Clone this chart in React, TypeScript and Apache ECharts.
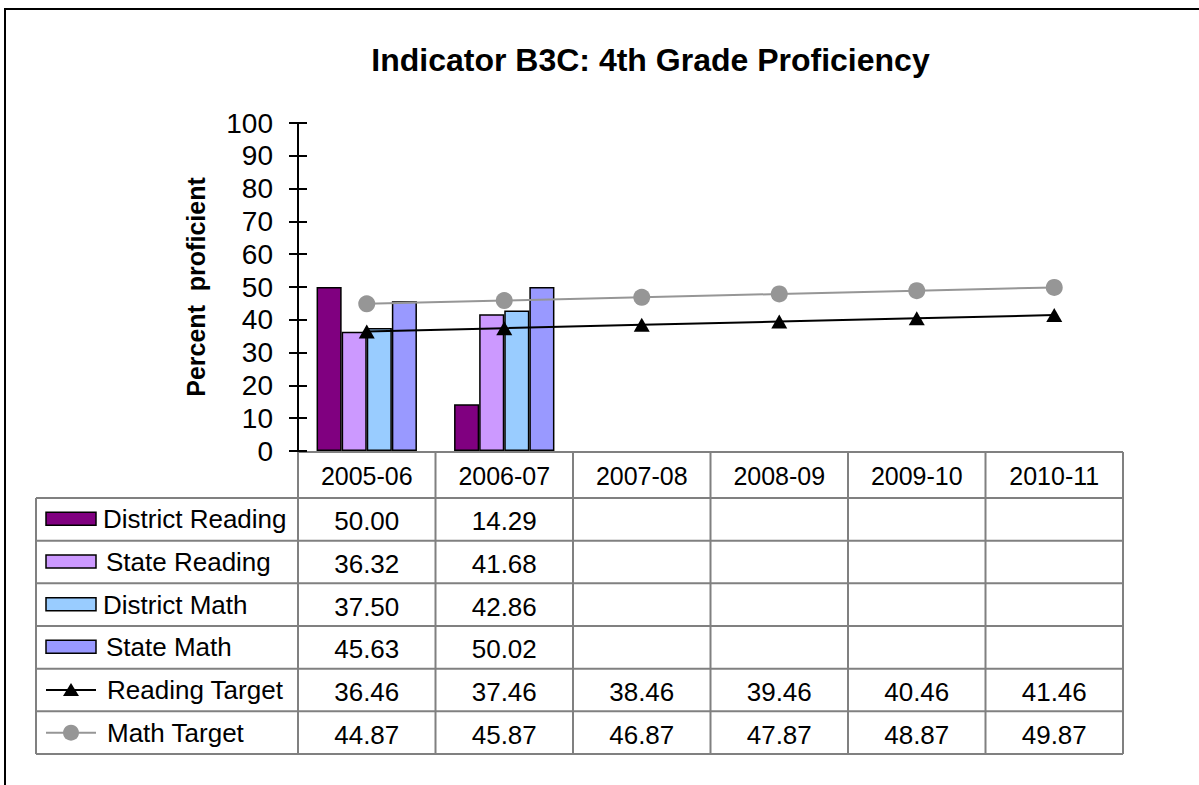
import React, { useEffect, useRef } from "react";
import * as echarts from "echarts";

const categories = ["2005-06", "2006-07", "2007-08", "2008-09", "2009-10", "2010-11"];
const districtReading = [50.0, 14.29, null, null, null, null];
const stateReading = [36.32, 41.68, null, null, null, null];
const districtMath = [37.5, 42.86, null, null, null, null];
const stateMath = [45.63, 50.02, null, null, null, null];
const readingTarget = [36.46, 37.46, 38.46, 39.46, 40.46, 41.46];
const mathTarget = [44.87, 45.87, 46.87, 47.87, 48.87, 49.87];
const yTicks = [0, 10, 20, 30, 40, 50, 60, 70, 80, 90, 100];

const FONT = "Liberation Sans, Arial, sans-serif";
const W = 1199;
const H = 785;
const GRID_L = 298;
const GRID_R = 1123;
const GRID_T = 123;
const GRID_B = 451;
const TABLE_L = 36;
const HEADER_B = 498;
const TABLE_B = 754;
const GRID_LINE = "#808080";

type Row = {
  name: string;
  data: (number | null)[];
  kind: "bar" | "line";
  color: string;
  symbol?: string;
};

const rows: Row[] = [
  { name: "District Reading", data: districtReading, kind: "bar", color: "#800080" },
  { name: "State Reading", data: stateReading, kind: "bar", color: "#CC99FF" },
  { name: "District Math", data: districtMath, kind: "bar", color: "#99CCFF" },
  { name: "State Math", data: stateMath, kind: "bar", color: "#9999FF" },
  { name: "Reading Target", data: readingTarget, kind: "line", color: "#000000", symbol: "triangle" },
  { name: "Math Target", data: mathTarget, kind: "line", color: "#969696", symbol: "circle" },
];

export default function App() {
  const ref = useRef<HTMLDivElement>(null);

  useEffect(() => {
    if (!ref.current) return;
    const chart = echarts.init(ref.current, null, { renderer: "svg" });

    const colW = (GRID_R - GRID_L) / categories.length;
    const rowH = (TABLE_B - HEADER_B) / rows.length;
    const graphics: any[] = [];

    // outer border (extends beyond the right/bottom of the page)
    graphics.push({
      type: "rect",
      shape: { x: 5, y: 9, width: 1400, height: 1000 },
      style: { fill: "none", stroke: "#000", lineWidth: 2 },
      silent: true,
    });

    // title
    graphics.push({
      type: "text",
      x: 650.5,
      y: 60,
      style: {
        text: "Indicator B3C: 4th Grade Proficiency",
        fill: "#000",
        font: `bold 32px ${FONT}`,
        align: "center",
        verticalAlign: "middle",
      },
    });

    // table horizontal lines
    graphics.push({
      type: "line",
      shape: { x1: GRID_L, y1: GRID_B + 1, x2: GRID_R, y2: GRID_B + 1 },
      style: { stroke: GRID_LINE, lineWidth: 2 },
    });
    for (let i = 0; i <= rows.length; i++) {
      const y = HEADER_B + i * rowH;
      graphics.push({
        type: "line",
        shape: { x1: TABLE_L, y1: y, x2: GRID_R, y2: y },
        style: { stroke: GRID_LINE, lineWidth: 2 },
      });
    }
    // vertical lines
    graphics.push({
      type: "line",
      shape: { x1: TABLE_L, y1: HEADER_B, x2: TABLE_L, y2: TABLE_B },
      style: { stroke: GRID_LINE, lineWidth: 2 },
    });
    for (let j = 0; j <= categories.length; j++) {
      const x = GRID_L + j * colW;
      graphics.push({
        type: "line",
        shape: { x1: x, y1: GRID_B + 1, x2: x, y2: TABLE_B },
        style: { stroke: GRID_LINE, lineWidth: 2 },
      });
    }
    // header texts
    categories.forEach((c, j) => {
      graphics.push({
        type: "text",
        x: GRID_L + (j + 0.5) * colW,
        y: (GRID_B + HEADER_B) / 2 + 1,
        style: {
          text: c,
          fill: "#000",
          font: `25px ${FONT}`,
          align: "center",
          verticalAlign: "middle",
        },
      });
    });
    // rows
    rows.forEach((r, i) => {
      const cy = HEADER_B + (i + 0.5) * rowH;
      if (r.kind === "bar") {
        graphics.push({
          type: "rect",
          shape: { x: 46, y: cy - 7, width: 50, height: 13 },
          style: { fill: r.color, stroke: "#000", lineWidth: 1.5 },
        });
      } else {
        graphics.push({
          type: "line",
          shape: { x1: 46, y1: cy, x2: 96, y2: cy },
          style: { stroke: r.color, lineWidth: 2 },
        });
        if (r.symbol === "triangle") {
          graphics.push({
            type: "polygon",
            shape: { points: [[71, cy - 7], [79, cy + 6], [63, cy + 6]] },
            style: { fill: r.color },
          });
        } else {
          graphics.push({
            type: "circle",
            shape: { cx: 71, cy, r: 8 },
            style: { fill: r.color },
          });
        }
      }
      graphics.push({
        type: "text",
        x: r.kind === "bar" && i % 2 === 1 ? 106 : r.kind === "line" ? 107 : 103,
        y: cy,
        style: {
          text: r.name,
          fill: "#000",
          font: `26px ${FONT}`,
          align: "left",
          verticalAlign: "middle",
        },
      });
      r.data.forEach((v, j) => {
        if (v === null) return;
        graphics.push({
          type: "text",
          x: GRID_L + (j + 0.5) * colW,
          y: cy + 2,
          style: {
            text: v.toFixed(2),
            fill: "#000",
            font: `26px ${FONT}`,
            align: "center",
            verticalAlign: "middle",
          },
        });
      });
    });

    const barSeries = rows
      .filter((r) => r.kind === "bar")
      .map((r) => ({
        name: r.name,
        type: "bar",
        data: r.data,
        barGap: "0%",
        barCategoryGap: "27%",
        itemStyle: { color: r.color, borderColor: "#000", borderWidth: 1.5 },
        z: 2,
      }));
    const lineSeries = rows
      .filter((r) => r.kind === "line")
      .map((r) => ({
        name: r.name,
        type: "line",
        data: r.data,
        symbol: r.symbol,
        symbolSize: r.symbol === "triangle" ? [16, 14] : 17,
        showAllSymbol: true,
        lineStyle: { color: r.color, width: 2 },
        itemStyle: { color: r.color },
        z: 3,
      }));

    const yBase = {
      type: "value",
      min: yTicks[0],
      max: yTicks[yTicks.length - 1],
      interval: 10,
      position: "left",
      splitLine: { show: false },
    };

    chart.setOption({
      animation: false,
      backgroundColor: "#fff",
      grid: {
        left: GRID_L,
        right: W - GRID_R,
        top: GRID_T,
        bottom: H - GRID_B,
        containLabel: false,
      },
      xAxis: {
        type: "category",
        data: categories,
        axisLine: { show: false },
        axisTick: { show: false },
        axisLabel: { show: false },
        splitLine: { show: false },
      },
      yAxis: [
        {
          ...yBase,
          name: "Percent  proficient",
          nameLocation: "middle",
          nameRotate: 90,
          nameGap: 90,
          nameTextStyle: { fontFamily: FONT, fontSize: 25, fontWeight: "bold", color: "#000" },
          axisLine: { show: true, lineStyle: { color: "#000", width: 2 } },
          axisTick: { show: true, length: 9, lineStyle: { color: "#000", width: 2 } },
          axisLabel: { show: true, margin: 25, fontFamily: FONT, fontSize: 28, color: "#000" },
        },
        {
          ...yBase,
          axisLine: { show: false },
          axisTick: { show: true, inside: true, length: 9, lineStyle: { color: "#000", width: 2 } },
          axisLabel: { show: false },
        },
      ],
      series: [...barSeries, ...lineSeries],
      graphic: graphics,
    });

    return () => chart.dispose();
  }, []);

  return (
    <div
      ref={ref}
      style={{ position: "fixed", left: 0, top: 0, width: W, height: H, background: "#fff" }}
    />
  );
}
